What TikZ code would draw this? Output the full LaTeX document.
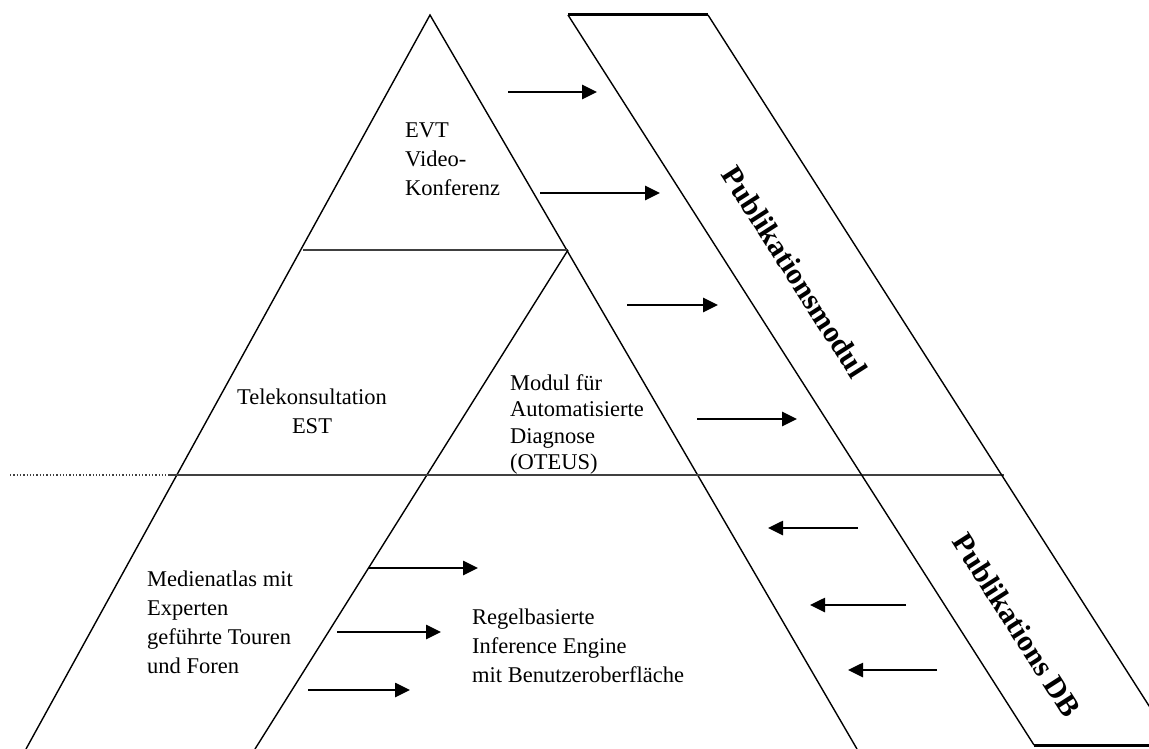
\documentclass[tikz,border=0pt]{standalone}
\usepackage{fontspec}
\setmainfont{Liberation Serif}
\usetikzlibrary{arrows.meta,calc}
\begin{document}
\begin{tikzpicture}[x=1pt,y=-1pt,
  edge/.style={line width=1.4pt,black},
  divider/.style={line width=1.3pt,black!75},
  thickedge/.style={line width=3pt,black},
  flow/.style={line width=2.6pt,-{Triangle[length=15pt,width=14pt]}},
  lbl/.style={font=\fontsize{22.5}{29}\selectfont,inner sep=0pt},
  bandlbl/.style={font=\fontsize{30}{34}\selectfont\bfseries,inner sep=0pt,rotate=-57.4}]
\useasboundingbox (0,0) rectangle (1149,749);
\clip (0,0) rectangle (1149,749);

% pyramid corners
\coordinate (apex) at (430,15);
\coordinate (bl) at (26,749);
\coordinate (br) at (857,749);
% level dividers
\coordinate (l1a) at (303,250);
\coordinate (l1b) at (568,250);
\coordinate (inner) at (255,749);
\coordinate (l2dot) at (10,475);
\coordinate (l2a) at (169,475);
\coordinate (l2b) at (1004,475);
% publication band
\coordinate (p1) at (568,15);
\coordinate (p2) at (708,15);
\coordinate (p3) at (1174,745);
\coordinate (p4) at (1034,745);

% pyramid
\draw[edge] (bl) -- (apex) -- (br);
\draw[divider] (l1a) -- (l1b);
\draw[edge] (l1b) -- (inner);
\draw[divider, dotted] (l2dot) -- (l2a);
\draw[divider] (l2a) -- (l2b);

% publication band
\draw[thickedge] (p1) -- (p2);
\draw[thickedge] (p4) -- (p3);
\draw[edge] (p1) -- (p4);
\draw[edge] (p2) -- (p3);

% labels
\node[lbl,anchor=north west,align=left] (evt) at (405,123) {EVT\\Video-\\Konferenz};
\node[lbl,anchor=north,align=center] (tele) at (312,389) {Telekonsultation\\EST};
\node[lbl,anchor=north west,align=left,font=\fontsize{22.5}{26.5}\selectfont] (modul) at (510,374) {Modul für\\Automatisierte\\Diagnose\\(OTEUS)};
\node[lbl,anchor=north west,align=left] (atlas) at (147,571) {Medienatlas mit\\Experten\\geführte Touren\\und Foren};
\node[lbl,anchor=north west,align=left] (regel) at (472,609) {Regelbasierte\\Inference Engine\\mit Benutzeroberfläche};
\node[bandlbl] (pmod) at (795,272) {Publikationsmodul};
\node[bandlbl] (pdb) at (1017,625) {Publikations DB};

% arrows into the band
\coordinate (a1s) at (508,92);  \coordinate (a1e) at (597,92);
\coordinate (a2s) at (540,193); \coordinate (a2e) at (660,193);
\coordinate (a3s) at (627,305); \coordinate (a3e) at (718,305);
\coordinate (a4s) at (697,419); \coordinate (a4e) at (797,419);
\draw[flow] (a1s) -- (a1e);
\draw[flow] (a2s) -- (a2e);
\draw[flow] (a3s) -- (a3e);
\draw[flow] (a4s) -- (a4e);
% arrows inside the base
\coordinate (a5s) at (368,568); \coordinate (a5e) at (478,568);
\coordinate (a6s) at (337,632); \coordinate (a6e) at (441,632);
\coordinate (a7s) at (308,690); \coordinate (a7e) at (410,690);
\draw[flow] (a5s) -- (a5e);
\draw[flow] (a6s) -- (a6e);
\draw[flow] (a7s) -- (a7e);
% arrows out of the database
\coordinate (b1s) at (858,528); \coordinate (b1e) at (768,528);
\coordinate (b2s) at (906,605); \coordinate (b2e) at (810,605);
\coordinate (b3s) at (937,670); \coordinate (b3e) at (848,670);
\draw[flow] (b1s) -- (b1e);
\draw[flow] (b2s) -- (b2e);
\draw[flow] (b3s) -- (b3e);
\end{tikzpicture}
\end{document}
